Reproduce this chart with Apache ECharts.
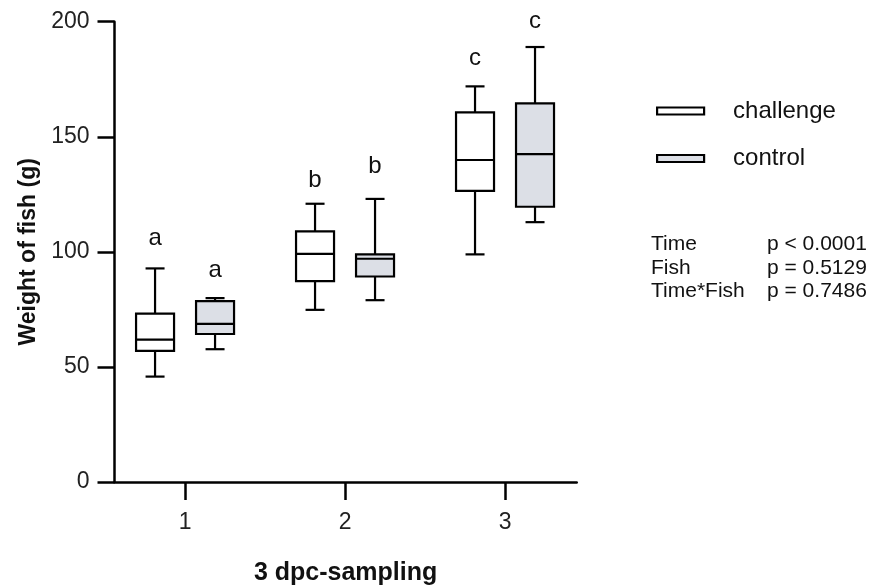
<!DOCTYPE html>
<html>
<head>
<meta charset="utf-8">
<script src="https://cdn.jsdelivr.net/npm/echarts@6/dist/echarts.min.js"></script>
<style>
html,body{margin:0;padding:0;background:#fff;}
#chart{width:873px;height:588px;}
</style>
</head>
<body>
<div id="chart"></div>
<script>
// ---- data ----
var categories = [1, 2, 3];
var seriesNames = ['challenge', 'control'];
// [min, Q1, median, Q3, max] per category
var challengeBox = [
  [45.8, 57.0, 61.9, 73.2, 92.8],
  [74.8, 87.3, 99.1, 108.9, 120.9],
  [98.9, 126.5, 139.9, 160.6, 171.9]
];
var controlBox = [
  [57.7, 64.3, 68.7, 78.6, 79.9],
  [79.0, 89.3, 97.0, 98.9, 123.0],
  [112.9, 119.6, 142.5, 164.5, 189.0]
];
var challengeLetters = ['a', 'b', 'c'];
var challengeLetterY = [106, 131, 184];
var controlLetters = ['a', 'b', 'c'];
var controlLetterY = [92, 137, 200];
var yTicks = [0, 50, 100, 150, 200];
var statNames = ['Time', 'Fish', 'Time*Fish'];
var statValues = ['p < 0.0001', 'p = 0.5129', 'p = 0.7486'];

var FONT = '"Liberation Sans", Arial, Helvetica, sans-serif';
var chart = echarts.init(document.getElementById('chart'), null, {renderer: 'canvas'});

function boxData(arr) {
  return arr.map(function (b, i) { return [categories[i]].concat(b); });
}
function letterData(letters, ys) {
  return letters.map(function (l, i) { return [categories[i], ys[i], l]; });
}

function makeBoxRender(offset, fill) {
  return function (params, api) {
    var x = api.value(0) + offset;
    var w = api.size([0.2375, 0])[0];
    var cx = api.coord([x, 0])[0];
    function Y(v) { return api.coord([x, v])[1]; }
    var yMin = Y(api.value(1)), yQ1 = Y(api.value(2)), yMed = Y(api.value(3)),
        yQ3 = Y(api.value(4)), yMax = Y(api.value(5));
    var ls = {stroke: '#000', lineWidth: 2.2};
    return {
      type: 'group',
      children: [
        {type: 'line', shape: {x1: cx, y1: yMax, x2: cx, y2: yQ3}, style: ls},
        {type: 'line', shape: {x1: cx, y1: yQ1, x2: cx, y2: yMin}, style: ls},
        {type: 'line', shape: {x1: cx - w / 4, y1: yMax, x2: cx + w / 4, y2: yMax}, style: ls},
        {type: 'line', shape: {x1: cx - w / 4, y1: yMin, x2: cx + w / 4, y2: yMin}, style: ls},
        {type: 'rect', shape: {x: cx - w / 2, y: yQ3, width: w, height: yQ1 - yQ3},
          style: {fill: fill, stroke: '#000', lineWidth: 2.2}},
        {type: 'line', shape: {x1: cx - w / 2, y1: yMed, x2: cx + w / 2, y2: yMed}, style: ls}
      ]
    };
  };
}
function makeLetterRender(offset) {
  return function (params, api) {
    var p = api.coord([api.value(0) + offset, api.value(1)]);
    return {
      type: 'text',
      style: {x: p[0], y: p[1], text: api.value(2), fill: '#111',
        font: '24px ' + FONT, align: 'center', verticalAlign: 'middle'}
    };
  };
}

var graphics = [];
statNames.forEach(function (n, i) {
  graphics.push({type: 'text', left: 651, top: 234 + i * 23.5,
    style: {text: n, font: '21px ' + FONT, fill: '#111'}});
  graphics.push({type: 'text', left: 767, top: 234 + i * 23.5,
    style: {text: statValues[i], font: '21px ' + FONT, fill: '#111'}});
});

var option = {
  backgroundColor: '#fff',
  animation: false,
  textStyle: {fontFamily: FONT},
  grid: {left: 114.5, right: 296.3, top: 21.7, bottom: 106, containLabel: false, outerBoundsMode: 'none'},
  legend: {
    orient: 'vertical', left: 651, top: 94, itemGap: 23.5,
    icon: 'rect', itemWidth: 47, itemHeight: 7,
    textStyle: {fontSize: 24, color: '#111', fontFamily: FONT, padding: [0, 0, 0, 24]},
    data: [
      {name: 'challenge', itemStyle: {color: '#fff', borderColor: '#000', borderWidth: 2.2}},
      {name: 'control', itemStyle: {color: '#dcdfe6', borderColor: '#000', borderWidth: 2.2}}
    ]
  },
  xAxis: {
    type: 'value', min: 0.559, max: 3.448,
    name: '3 dpc-sampling', nameLocation: 'middle', nameGap: 79,
    nameTextStyle: {fontSize: 25, fontWeight: 'bold', color: '#111', fontFamily: FONT},
    axisLine: {show: true, lineStyle: {color: '#000', width: 2.5}},
    axisTick: {show: true, length: 18, lineStyle: {color: '#000', width: 2.5}, customValues: categories},
    axisLabel: {fontSize: 23, color: '#222', margin: 29, customValues: categories, fontFamily: FONT},
    splitLine: {show: false}
  },
  yAxis: {
    type: 'value', min: 0, max: 200, interval: 50,
    name: 'Weight of fish (g)', nameLocation: 'middle', nameGap: 72, nameRotate: 90,
    nameTextStyle: {fontSize: 23, fontWeight: 'bold', color: '#111', fontFamily: FONT},
    axisLine: {show: true, lineStyle: {color: '#000', width: 2.5}},
    axisTick: {show: true, length: 17, lineStyle: {color: '#000', width: 2.5}},
    axisLabel: {fontSize: 23, color: '#222', margin: 25, fontFamily: FONT},
    splitLine: {show: false}
  },
  graphic: graphics,
  series: [
    {name: 'challenge', type: 'custom', renderItem: makeBoxRender(-0.1875, '#fff'),
      itemStyle: {color: '#fff', borderColor: '#000'},
      encode: {x: 0, y: [1, 2, 3, 4, 5]}, data: boxData(challengeBox)},
    {name: 'control', type: 'custom', renderItem: makeBoxRender(0.1875, '#dcdfe6'),
      itemStyle: {color: '#dcdfe6', borderColor: '#000'},
      encode: {x: 0, y: [1, 2, 3, 4, 5]}, data: boxData(controlBox)},
    {name: 'lettersChallenge', type: 'custom', renderItem: makeLetterRender(-0.1875),
      encode: {x: 0, y: 1}, data: letterData(challengeLetters, challengeLetterY), silent: true},
    {name: 'lettersControl', type: 'custom', renderItem: makeLetterRender(0.1875),
      encode: {x: 0, y: 1}, data: letterData(controlLetters, controlLetterY), silent: true}
  ]
};
chart.setOption(option);
</script>
</body>
</html>
